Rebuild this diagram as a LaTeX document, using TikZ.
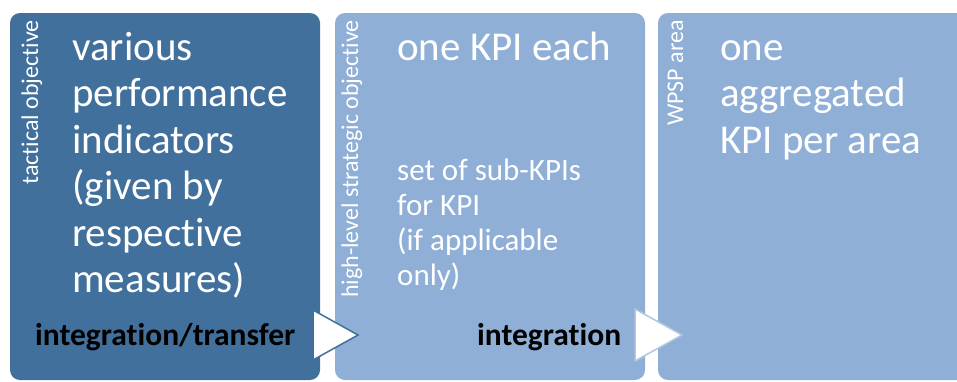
\documentclass[tikz,border=0pt]{standalone}
\usepackage{fontspec}
\setmainfont{Carlito}[Ligatures=CommonOff]
\usetikzlibrary{positioning}
\definecolor{tacblue}{HTML}{41709C}
\definecolor{stratblue}{HTML}{8FAFD6}
\definecolor{tipline}{HTML}{AFC6E4}
\tikzset{
  stage/.style={rounded corners=10pt, inner sep=0pt, minimum width=310pt, minimum height=367pt},
  sidelabel/.style={rotate=90, anchor=base east, inner sep=0pt, text=white, font=\fontsize{24}{24}\selectfont},
  bigtext/.style={anchor=base west, align=left, inner sep=0pt, text=white, font=\fontsize{41}{46.5}\selectfont},
  midtext/.style={anchor=base west, align=left, inner sep=0pt, text=white, font=\fontsize{31}{35}\selectfont},
  steplabel/.style={anchor=base west, inner sep=0pt, text=black, font=\bfseries\fontsize{31.5}{35}\selectfont},
  tip/.style={fill=white, line width=1.5pt, line join=miter}
}
\begin{document}
\begin{tikzpicture}[x=1pt, y=-1pt]
		\useasboundingbox (0,0) rectangle (957,381);
		\clip (0,0) rectangle (957,381);
		% stages
		\node[stage, fill=tacblue] (tactical) at (165,196.5) {};
		\node[stage, fill=stratblue] (strategic) at (490,196.5) {};
		\node[stage, fill=stratblue] (area) at (813,196.5) {};
		% arrow heads between stages
		\draw[tip, draw=tacblue] (313,310) -- (358,335) -- (313,360) -- cycle;
		\draw[tip, draw=tipline] (635,309) -- (682,335) -- (635,361) -- cycle;
		% side labels
		\node[sidelabel] (tacname) at (38,20) {tactical objective};
		\node[sidelabel] (stratname) at (358,20) {high-level strategic objective};
		\node[sidelabel] (areaname) at (683,20) {WPSP area};
		% contents (placed at the baseline of the last line)
		\node[bigtext] (tacitems) at (72,292.5) {various\\performance\\indicators\\(given by\\respective\\measures)};
		\node[bigtext] (stratkpi) at (397,60) {one KPI each};
		\node[midtext] (stratsub) at (397,285) {set of sub-KPIs\\for KPI\\(if applicable\\only)};
		\node[bigtext] (areakpi) at (720,153) {one\\aggregated\\KPI per area};
		% steps
		\node[steplabel] (transfer) at (35,345) {integration/transfer};
		\node[steplabel] (integ) at (477,345) {integration};
	\end{tikzpicture}
\end{document}
